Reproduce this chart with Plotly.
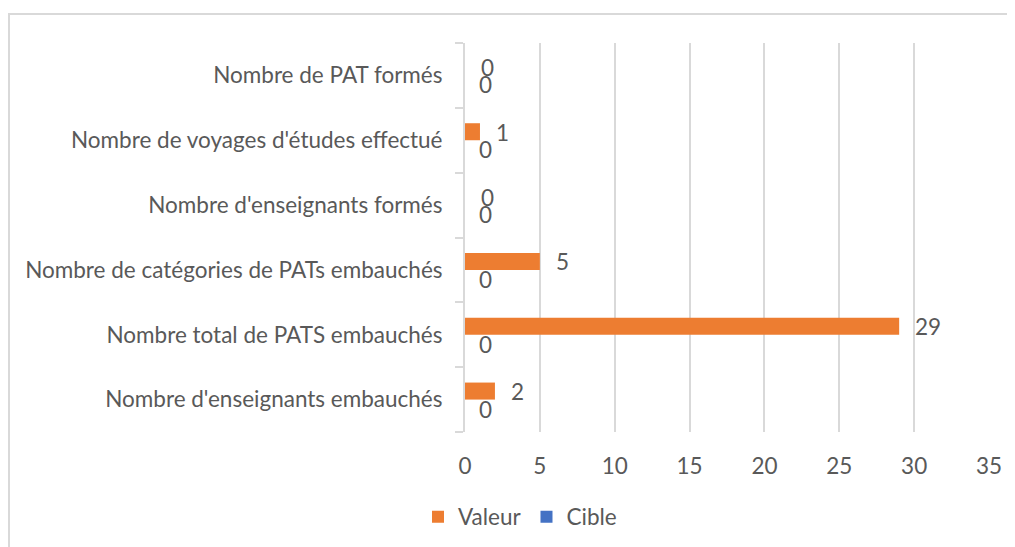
import plotly.graph_objects as go

categories = [
    "Nombre d'enseignants embauchés",
    "Nombre total de PATS embauchés",
    "Nombre de catégories de PATs embauchés",
    "Nombre d'enseignants formés",
    "Nombre de voyages d'études effectué",
    "Nombre de PAT formés",
]
valeur = [2, 29, 5, 0, 1, 0]
cible = [0, 0, 0, 0, 0, 0]
x_ticks = [0, 5, 10, 15, 20, 25, 30, 35]

W, H = 1015, 547
OFF = 8  # page offset of the figure inside the browser
L, R, T, B = 465 - OFF, 1015 - (989 - OFF), 43 - OFF, 547 - (432 - OFF)
FONT = "Lato"
FS = 22.5
TXT = "#595959"
GRID = "#d9d9d9"

fig = go.Figure()
fig.add_trace(go.Bar(name="Cible", y=categories, x=cible, orientation="h",
                     marker=dict(color="#4472C4", line=dict(width=0)), legendrank=2))
fig.add_trace(go.Bar(name="Valeur", y=categories, x=valeur, orientation="h",
                     marker=dict(color="#ED7D31", line=dict(width=0)), legendrank=1))

annotations = []
for c, v, t in zip(categories, valeur, cible):
    annotations.append(dict(x=v, y=c, xref="x", yref="y", text=str(v), showarrow=False,
                            xanchor="left", yanchor="middle", xshift=14, yshift=8,
                            font=dict(family=FONT, size=FS, color=TXT)))
    annotations.append(dict(x=t, y=c, xref="x", yref="y", text=str(t), showarrow=False,
                            xanchor="left", yanchor="middle", xshift=12, yshift=-9.5,
                            font=dict(family=FONT, size=FS, color=TXT)))

pw, ph = W - L - R, H - T - B
def px(xp):
    return (xp - OFF - L) / pw
def py(yp):
    return (H - B - (yp - OFF)) / ph

shapes = [
    dict(type="line", xref="paper", yref="paper", x0=px(8), x1=px(1030), y0=py(14), y1=py(14),
         line=dict(color=GRID, width=2)),
    dict(type="line", xref="paper", yref="paper", x0=px(9), x1=px(9), y0=py(14), y1=py(570),
         line=dict(color=GRID, width=2)),
]

fig.update_layout(
    width=W, height=H,
    margin=dict(l=L, r=R, t=T, b=B),
    paper_bgcolor="white", plot_bgcolor="white",
    barmode="group", bargap=0.475, bargroupgap=0,
    font=dict(family=FONT, size=FS, color=TXT),
    showlegend=True,
    legend=dict(orientation="h", xref="container", yref="container",
                x=(418 - OFF) / W, xanchor="left", y=(H - (517 - OFF)) / H, yanchor="middle",
                font=dict(family=FONT, size=FS, color=TXT), itemwidth=30,
                traceorder="normal"),
    annotations=annotations,
    shapes=shapes,
    xaxis=dict(range=[0, 35], tickvals=x_ticks, ticktext=[str(v) for v in x_ticks],
               showgrid=True, gridcolor=GRID, gridwidth=2, zeroline=False,
               showline=False, ticks="", ticklabelstandoff=18,
               tickfont=dict(family=FONT, size=FS, color=TXT)),
    yaxis=dict(type="category", categoryorder="array", categoryarray=categories,
               showgrid=False, zeroline=False, showline=True, linecolor=GRID, linewidth=2,
               ticks="outside", tickson="boundaries", ticklen=8, tickcolor=GRID, tickwidth=2,
               ticklabelstandoff=16,
               tickfont=dict(family=FONT, size=FS, color=TXT)),
)

fig.write_html("out.html")
